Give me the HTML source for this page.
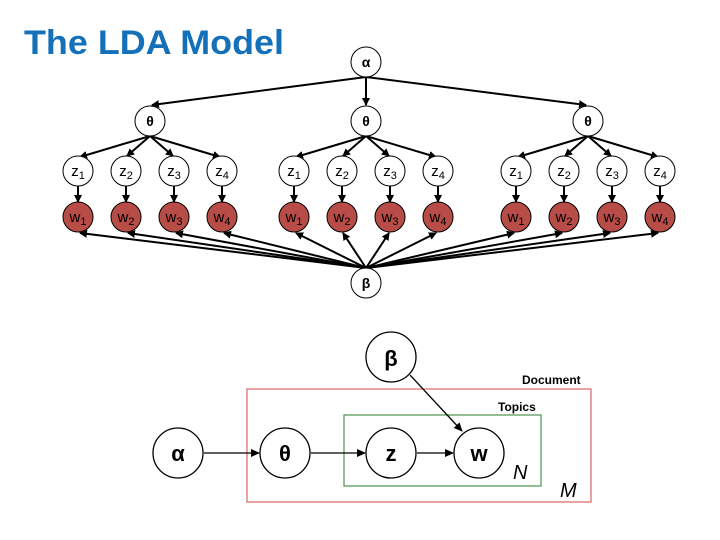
<!DOCTYPE html>
<html><head><meta charset="utf-8"><style>
html,body{margin:0;padding:0;background:#fff;}
svg{display:block;}
</style></head><body>
<svg width="720" height="540" viewBox="0 0 720 540" xmlns="http://www.w3.org/2000/svg" font-family="Liberation Sans, DejaVu Sans, sans-serif">
<defs>
<marker id="a" markerWidth="8" markerHeight="8" refX="7" refY="4" orient="auto" markerUnits="userSpaceOnUse"><path d="M0,0 L8,4 L0,8 z" fill="#000"/></marker>
<marker id="b" markerWidth="9" markerHeight="8" refX="8" refY="4" orient="auto" markerUnits="userSpaceOnUse"><path d="M0,0 L9,4 L0,8 z" fill="#000"/></marker>
</defs>
<text x="24" y="54" font-size="34" font-weight="bold" fill="#1470b8" textLength="260" lengthAdjust="spacingAndGlyphs">The LDA Model</text>

<g stroke="#000" stroke-width="2" marker-end="url(#a)" fill="none">
<line x1="366" y1="77" x2="152" y2="105"/>
<line x1="366" y1="77" x2="366" y2="105"/>
<line x1="366" y1="77" x2="586" y2="105"/>
<line x1="150" y1="136" x2="80" y2="157"/><line x1="150" y1="136" x2="127" y2="156"/><line x1="150" y1="136" x2="173" y2="156"/><line x1="150" y1="136" x2="220" y2="157"/>
<line x1="366" y1="136" x2="296" y2="157"/><line x1="366" y1="136" x2="343" y2="156"/><line x1="366" y1="136" x2="389" y2="156"/><line x1="366" y1="136" x2="436" y2="157"/>
<line x1="588" y1="136" x2="518" y2="157"/><line x1="588" y1="136" x2="565" y2="156"/><line x1="588" y1="136" x2="611" y2="156"/><line x1="588" y1="136" x2="658" y2="157"/>
<line x1="78" y1="186" x2="78" y2="202"/><line x1="126" y1="186" x2="126" y2="202"/><line x1="174" y1="186" x2="174" y2="202"/><line x1="222" y1="186" x2="222" y2="202"/>
<line x1="294" y1="186" x2="294" y2="202"/><line x1="342" y1="186" x2="342" y2="202"/><line x1="390" y1="186" x2="390" y2="202"/><line x1="438" y1="186" x2="438" y2="202"/>
<line x1="516" y1="186" x2="516" y2="202"/><line x1="564" y1="186" x2="564" y2="202"/><line x1="612" y1="186" x2="612" y2="202"/><line x1="660" y1="186" x2="660" y2="202"/>
<line x1="366" y1="268" x2="80" y2="233"/><line x1="366" y1="268" x2="128" y2="233"/><line x1="366" y1="268" x2="176" y2="233"/><line x1="366" y1="268" x2="224" y2="233"/>
<line x1="366" y1="268" x2="296" y2="233"/><line x1="366" y1="268" x2="343" y2="233"/><line x1="366" y1="268" x2="389" y2="233"/><line x1="366" y1="268" x2="436" y2="233"/>
<line x1="366" y1="268" x2="514" y2="233"/><line x1="366" y1="268" x2="562" y2="233"/><line x1="366" y1="268" x2="610" y2="233"/><line x1="366" y1="268" x2="658" y2="233"/>
</g>

<g stroke="#000" stroke-width="1" fill="#fff">
<circle cx="366" cy="62" r="15"/>
<circle cx="150" cy="121" r="15"/><circle cx="366" cy="121" r="15"/><circle cx="588" cy="121" r="15"/>
<circle cx="366" cy="283" r="15"/>
<circle cx="78" cy="171" r="15"/><circle cx="126" cy="171" r="15"/><circle cx="174" cy="171" r="15"/><circle cx="222" cy="171" r="15"/>
<circle cx="294" cy="171" r="15"/><circle cx="342" cy="171" r="15"/><circle cx="390" cy="171" r="15"/><circle cx="438" cy="171" r="15"/>
<circle cx="516" cy="171" r="15"/><circle cx="564" cy="171" r="15"/><circle cx="612" cy="171" r="15"/><circle cx="660" cy="171" r="15"/>
</g>
<g stroke="#000" stroke-width="1" fill="#b84c47">
<circle cx="78" cy="217" r="15"/><circle cx="126" cy="217" r="15"/><circle cx="174" cy="217" r="15"/><circle cx="222" cy="217" r="15"/>
<circle cx="294" cy="217" r="15"/><circle cx="342" cy="217" r="15"/><circle cx="390" cy="217" r="15"/><circle cx="438" cy="217" r="15"/>
<circle cx="516" cy="217" r="15"/><circle cx="564" cy="217" r="15"/><circle cx="612" cy="217" r="15"/><circle cx="660" cy="217" r="15"/>
</g>
<g font-size="14" font-weight="bold" text-anchor="middle" fill="#000">
<text x="366" y="67">α</text>
<text x="150" y="126">θ</text><text x="366" y="126">θ</text><text x="588" y="126">θ</text>
<text x="366" y="288">β</text>
</g>
<g font-size="15" text-anchor="middle" fill="#000">
<text x="78" y="176">z<tspan font-size="11" dy="3">1</tspan></text><text x="126" y="176">z<tspan font-size="11" dy="3">2</tspan></text><text x="174" y="176">z<tspan font-size="11" dy="3">3</tspan></text><text x="222" y="176">z<tspan font-size="11" dy="3">4</tspan></text>
<text x="294" y="176">z<tspan font-size="11" dy="3">1</tspan></text><text x="342" y="176">z<tspan font-size="11" dy="3">2</tspan></text><text x="390" y="176">z<tspan font-size="11" dy="3">3</tspan></text><text x="438" y="176">z<tspan font-size="11" dy="3">4</tspan></text>
<text x="516" y="176">z<tspan font-size="11" dy="3">1</tspan></text><text x="564" y="176">z<tspan font-size="11" dy="3">2</tspan></text><text x="612" y="176">z<tspan font-size="11" dy="3">3</tspan></text><text x="660" y="176">z<tspan font-size="11" dy="3">4</tspan></text>
<text x="78" y="222">w<tspan font-size="11" dy="3">1</tspan></text><text x="126" y="222">w<tspan font-size="11" dy="3">2</tspan></text><text x="174" y="222">w<tspan font-size="11" dy="3">3</tspan></text><text x="222" y="222">w<tspan font-size="11" dy="3">4</tspan></text>
<text x="294" y="222">w<tspan font-size="11" dy="3">1</tspan></text><text x="342" y="222">w<tspan font-size="11" dy="3">2</tspan></text><text x="390" y="222">w<tspan font-size="11" dy="3">3</tspan></text><text x="438" y="222">w<tspan font-size="11" dy="3">4</tspan></text>
<text x="516" y="222">w<tspan font-size="11" dy="3">1</tspan></text><text x="564" y="222">w<tspan font-size="11" dy="3">2</tspan></text><text x="612" y="222">w<tspan font-size="11" dy="3">3</tspan></text><text x="660" y="222">w<tspan font-size="11" dy="3">4</tspan></text>
</g>

<rect x="247" y="389" width="344" height="113" fill="none" stroke="#e07070" stroke-width="1.3"/>
<rect x="344" y="415" width="197" height="71" fill="none" stroke="#5a9a5a" stroke-width="1.3"/>
<g stroke="#000" stroke-width="1.3" fill="none" marker-end="url(#b)">
<line x1="204" y1="453" x2="259" y2="453"/>
<line x1="311" y1="453" x2="365" y2="453"/>
<line x1="417" y1="453" x2="453" y2="453"/>
<line x1="410" y1="375" x2="462" y2="431"/>
</g>
<g stroke="#000" stroke-width="1.3" fill="#fff">
<circle cx="178" cy="453" r="25"/><circle cx="285" cy="453" r="25"/><circle cx="391" cy="453" r="25"/><circle cx="479" cy="453" r="25"/><circle cx="391" cy="357" r="25"/>
</g>
<g font-size="22" font-weight="bold" text-anchor="middle" fill="#000">
<text x="178" y="461">α</text><text x="285" y="461">θ</text><text x="391" y="461">z</text><text x="479" y="461">w</text><text x="391" y="366">β</text>
</g>
<text x="522" y="384" font-size="12" font-weight="bold" fill="#000">Document</text>
<text x="498" y="411" font-size="12" font-weight="bold" fill="#000">Topics</text>
<text x="513" y="479" font-size="20" font-style="italic" fill="#000">N</text>
<text x="560" y="497" font-size="20" font-style="italic" fill="#000">M</text>
</svg>
</body></html>
